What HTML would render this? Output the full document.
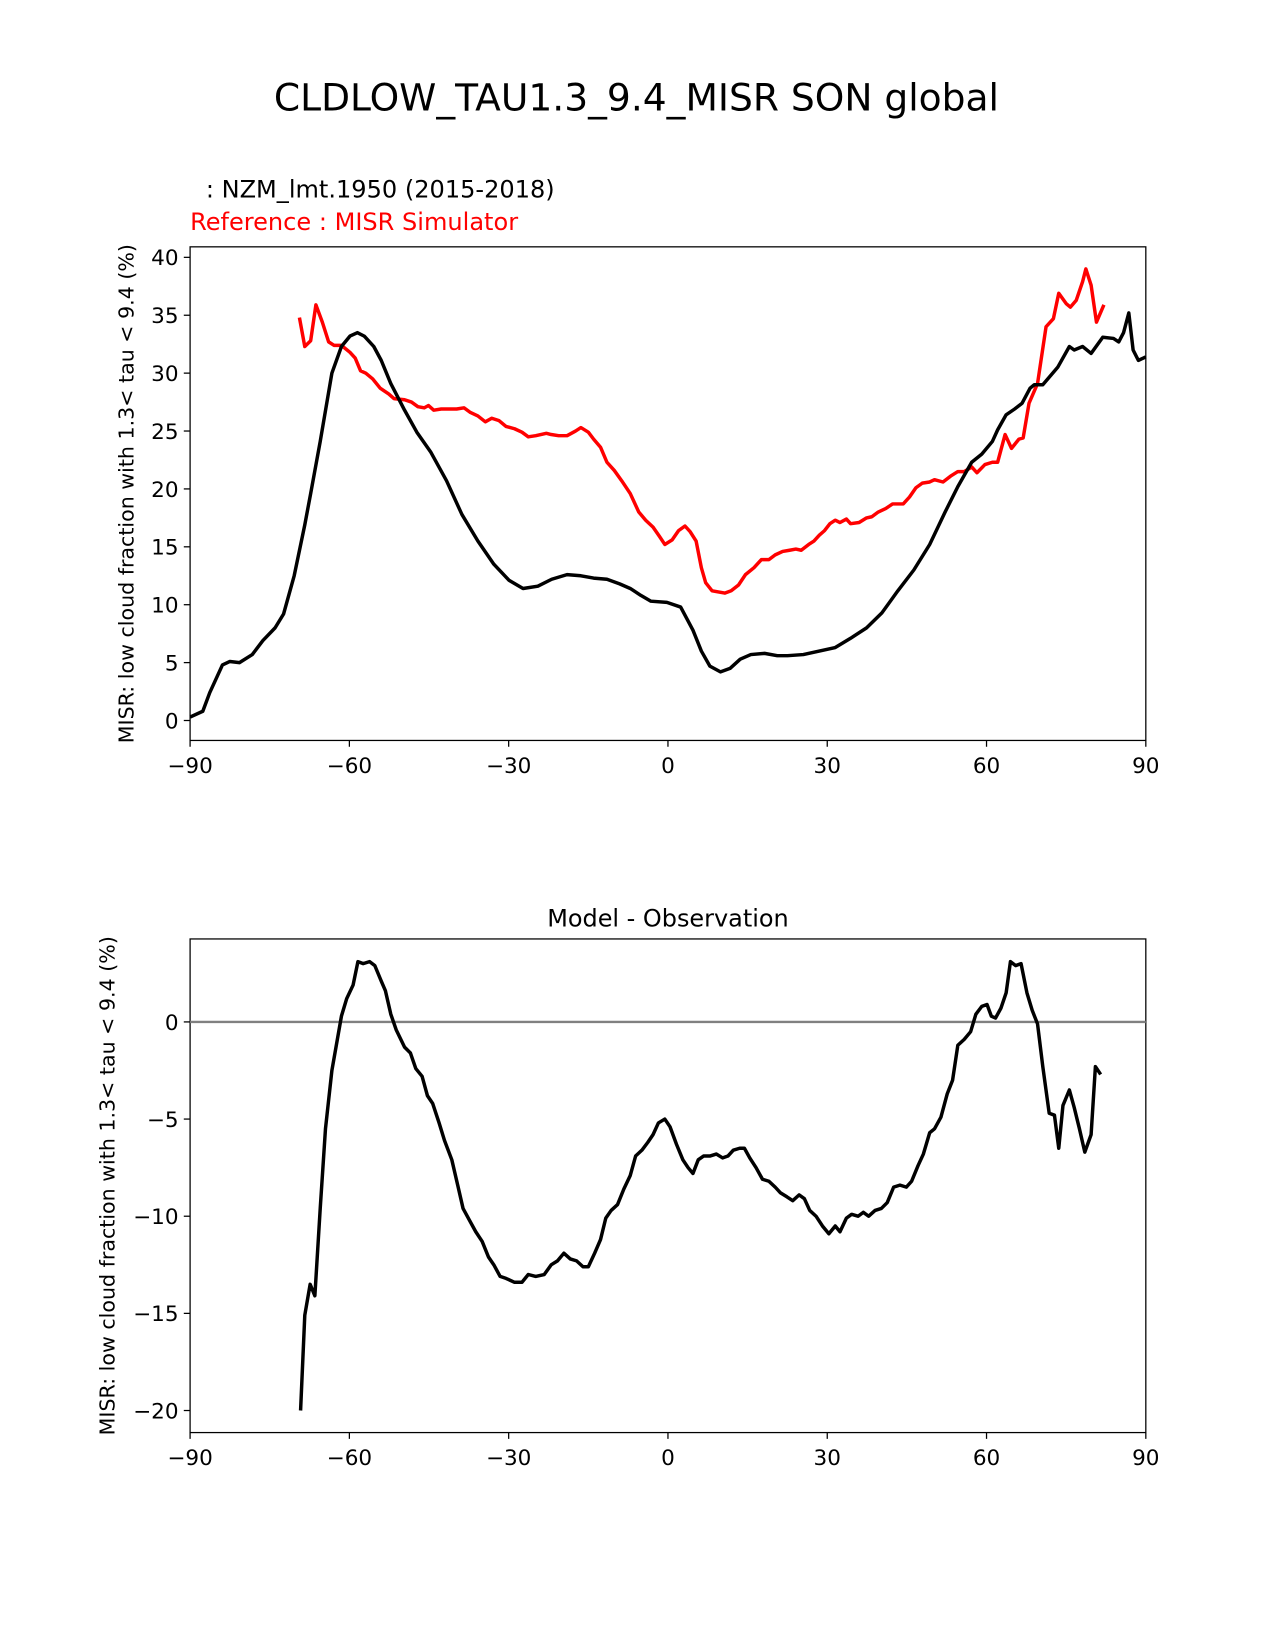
<!DOCTYPE html>
<html><head><meta charset="utf-8"><style>
html,body{margin:0;padding:0;background:#fff;}
svg{display:block;font-family:"DejaVu Sans","Liberation Sans",sans-serif;}
</style></head><body>
<svg id="fig" width="1275" height="1650" viewBox="0 0 1214 1571" xmlns="http://www.w3.org/2000/svg">
<rect width="1214" height="1571" fill="#fff"/>
<text x="606" y="105" font-size="35.8" text-anchor="middle">CLDLOW_TAU1.3_9.4_MISR SON global</text>
<text x="196" y="188" font-size="22.9">: NZM_lmt.1950 (2015-2018)</text>
<text x="181" y="219" font-size="22.9" fill="red">Reference : MISR Simulator</text>
<text x="636" y="882" font-size="22.8" text-anchor="middle">Model - Observation</text>
<g id="top"></g>
<g id="bot"></g>
</svg>
<script>
const blackLat=[-90,-87.6,-86.3,-83.9,-82.5,-80.7,-78.3,-76.3,-74.0,-72.4,-70.4,-68.4,-67.3,-65.5,-63.3,-61.5,-59.9,-58.5,-57.2,-55.4,-54.0,-52.2,-49.6,-47.3,-44.7,-41.7,-38.8,-35.8,-32.8,-29.9,-27.3,-24.5,-21.9,-19.0,-16.4,-14.0,-11.5,-9.1,-7.1,-5.1,-3.2,-0.2,2.4,4.7,6.3,7.9,9.9,11.7,13.6,15.6,18.2,20.6,22.5,25.5,28.5,31.5,34.4,37.4,40.3,43.3,46.3,49.3,52.2,54.6,57.2,59.1,61.1,62.1,63.7,65.3,66.7,68.2,69.0,70.6,73.4,75.6,76.5,78.1,79.7,81.9,83.9,84.9,85.8,86.8,87.6,88.6,90];
const blackVal=[0.3,0.8,2.4,4.8,5.1,5.0,5.7,6.9,8.0,9.2,12.5,16.9,19.6,24.1,30.0,32.3,33.2,33.5,33.2,32.3,31.1,29.1,26.8,24.9,23.2,20.7,17.8,15.5,13.5,12.1,11.4,11.6,12.2,12.6,12.5,12.3,12.2,11.8,11.4,10.8,10.3,10.2,9.8,7.8,6.0,4.7,4.2,4.5,5.3,5.7,5.8,5.6,5.6,5.7,6.0,6.3,7.1,8.0,9.3,11.2,13.0,15.2,18.0,20.2,22.3,23.0,24.1,25.1,26.4,26.9,27.4,28.7,29.0,29.0,30.5,32.3,32.0,32.3,31.7,33.1,33.0,32.7,33.5,35.2,32.0,31.1,31.4];
const redLat=[-69.4,-68.4,-67.3,-66.3,-65.1,-63.9,-62.9,-61.5,-59.9,-58.9,-57.9,-56.9,-55.6,-54.2,-52.6,-51.6,-49.6,-48.3,-47.1,-45.9,-45.1,-44.1,-42.7,-41.1,-39.8,-38.4,-37.2,-35.8,-34.4,-33.2,-31.8,-30.5,-28.9,-27.5,-26.3,-24.9,-22.9,-22.0,-20.6,-19.0,-17.4,-16.4,-15.0,-14.0,-12.7,-11.5,-10.1,-8.7,-7.1,-5.5,-4.2,-2.8,-1.6,-0.6,0.8,2.0,3.2,4.2,5.3,6.3,7.1,8.3,9.5,10.7,11.9,13.3,14.6,16.2,17.6,19.0,20.2,21.6,22.9,24.1,25.1,26.5,27.5,28.5,29.5,30.5,31.5,32.4,33.6,34.4,36.0,37.4,38.4,39.6,41.0,42.3,44.3,45.5,46.7,47.9,49.3,50.2,51.8,53.2,54.6,55.8,57.2,58.2,59.7,61.1,62.1,63.5,64.7,66.1,66.9,68.0,69.6,71.2,72.6,73.6,75.0,75.8,76.9,78.1,78.7,79.7,80.7,82.1];
const redVal=[34.8,32.3,32.8,35.9,34.4,32.7,32.4,32.4,31.8,31.3,30.2,30.0,29.5,28.7,28.2,27.8,27.7,27.5,27.1,27.0,27.2,26.8,26.9,26.9,26.9,27.0,26.6,26.3,25.8,26.1,25.9,25.4,25.2,24.9,24.5,24.6,24.8,24.7,24.6,24.6,25.0,25.3,24.9,24.3,23.6,22.3,21.6,20.7,19.6,18.0,17.3,16.7,15.9,15.2,15.6,16.4,16.8,16.3,15.5,13.2,11.9,11.2,11.1,11.0,11.2,11.7,12.6,13.2,13.9,13.9,14.3,14.6,14.7,14.8,14.7,15.2,15.5,16.0,16.4,17.0,17.3,17.1,17.4,17.0,17.1,17.5,17.6,18.0,18.3,18.7,18.7,19.3,20.1,20.5,20.6,20.8,20.6,21.1,21.5,21.5,21.9,21.4,22.1,22.3,22.3,24.7,23.5,24.3,24.4,27.4,29.1,34.0,34.7,36.9,36.0,35.7,36.3,37.9,39.0,37.6,34.4,35.9];
const diffLat=[-69.2,-68.4,-67.4,-66.5,-65.5,-64.5,-63.3,-61.5,-60.5,-59.3,-58.4,-57.4,-56.2,-55.2,-54.0,-53.2,-52.2,-51.2,-49.6,-48.5,-47.5,-46.3,-45.3,-44.3,-43.1,-42.1,-40.7,-39.6,-38.6,-37.4,-36.2,-35.0,-33.8,-32.8,-31.6,-30.5,-28.9,-27.5,-26.3,-24.9,-23.3,-22.0,-20.8,-19.6,-18.4,-17.2,-16.0,-15.0,-13.8,-12.7,-11.7,-10.7,-9.5,-8.3,-7.1,-6.1,-4.9,-3.8,-2.8,-1.8,-0.6,0.4,1.6,2.8,3.8,4.7,5.7,6.7,7.9,9.1,10.3,11.3,12.3,13.5,14.4,15.4,16.6,17.8,19.0,20.2,21.2,22.4,23.5,24.7,25.7,26.7,27.9,29.1,30.3,31.5,32.4,33.6,34.6,35.8,36.8,37.8,39.0,40.2,41.3,42.5,43.7,44.9,45.9,47.1,48.1,49.3,50.2,51.4,52.6,53.6,54.6,55.8,57.0,58.0,59.1,60.1,60.9,61.7,62.7,63.7,64.5,65.5,66.5,67.6,68.6,69.6,70.6,71.8,72.8,73.6,74.4,75.6,76.5,77.5,78.5,79.7,80.5,81.5];
const diffVal=[-20,-15.1,-13.5,-14.1,-9.6,-5.5,-2.5,0.3,1.2,1.9,3.1,3.0,3.1,2.9,2.1,1.6,0.4,-0.4,-1.3,-1.6,-2.4,-2.8,-3.8,-4.2,-5.2,-6.1,-7.1,-8.4,-9.6,-10.2,-10.8,-11.3,-12.1,-12.5,-13.1,-13.2,-13.4,-13.4,-13.0,-13.1,-13.0,-12.5,-12.3,-11.9,-12.2,-12.3,-12.6,-12.6,-11.9,-11.2,-10.1,-9.7,-9.4,-8.6,-7.9,-6.9,-6.6,-6.2,-5.8,-5.2,-5.0,-5.4,-6.3,-7.1,-7.5,-7.8,-7.1,-6.9,-6.9,-6.8,-7.0,-6.9,-6.6,-6.5,-6.5,-7.0,-7.5,-8.1,-8.2,-8.5,-8.8,-9.0,-9.2,-8.9,-9.1,-9.7,-10.0,-10.5,-10.9,-10.5,-10.8,-10.1,-9.9,-10.0,-9.8,-10.0,-9.7,-9.6,-9.3,-8.5,-8.4,-8.5,-8.2,-7.4,-6.8,-5.7,-5.5,-4.9,-3.7,-3.0,-1.2,-0.9,-0.5,0.4,0.8,0.9,0.3,0.2,0.7,1.5,3.1,2.9,3.0,1.5,0.6,-0.1,-2.3,-4.7,-4.8,-6.5,-4.3,-3.5,-4.4,-5.5,-6.7,-5.8,-2.3,-2.7];
const xTicks=[-90,-60,-30,0,30,60,90];
const xTickLabels=["\u221290","\u221260","\u221230","0","30","60","90"];
const topYTicks=[0,5,10,15,20,25,30,35,40];
const botYTicks=[0,-5,-10,-15,-20];

const NS="http://www.w3.org/2000/svg";
function mk(parent,tag,attrs,text){const e=document.createElementNS(NS,tag);for(const k in attrs)e.setAttribute(k,attrs[k]);if(text!==undefined)e.textContent=text;parent.appendChild(e);return e;}
const X=lat=>181+(lat+90)*(910/180);
function panel(g,top,bottom,yFn,yTicks,ylabel,ylx){
  mk(g,'rect',{x:181,y:top,width:910,height:bottom-top,fill:'none',stroke:'#000','stroke-width':1.2});
  xTicks.forEach((t,i)=>{
    const tl=mk(g,'line',{x1:X(t),x2:X(t),y1:bottom,y2:bottom+6,stroke:'#000','stroke-width':1.2});
    
    
    const tx=mk(g,'text',{x:X(t),y:bottom+31,'font-size':20.5,'text-anchor':'middle'},xTickLabels[i]);
    
    
  });
  yTicks.forEach(v=>{
    const tl=mk(g,'line',{x1:175,x2:181,y1:yFn(v),y2:yFn(v),stroke:'#000','stroke-width':1.2});
    
    
    const tx=mk(g,'text',{x:170,y:yFn(v)+7.5,'font-size':20.5,'text-anchor':'end'},String(v).replace('-','\u2212'));
    
    
  });
  const cy=(top+bottom)/2;
  const yl=mk(g,'text',{x:ylx,y:cy,'font-size':19.6,'text-anchor':'middle',transform:`rotate(-90 ${ylx} ${cy})`},ylabel);
  
  
}
function line(g,lats,vals,yFn,color,name){
  const d=lats.map((l,i)=>(i?'L':'M')+X(l).toFixed(1)+' '+yFn(vals[i]).toFixed(1)).join(' ');
  const p=mk(g,'path',{d:d,fill:'none',stroke:color,'stroke-width':3.3,'stroke-linejoin':'round'});
  
  
}
const YT=v=>686-v*(441/40);
const YB=v=>973-v*18.5;
const gt=document.getElementById('top'), gb=document.getElementById('bot');
const lab="MISR: low cloud fraction with 1.3< tau < 9.4 (%)";
panel(gt,235,705,YT,topYTicks,lab,127);
line(gt,redLat,redVal,YT,'red','reference-line');
line(gt,blackLat,blackVal,YT,'#000','model-line');
panel(gb,894,1364,YB,botYTicks,lab,109);
const z=mk(gb,'line',{x1:181,x2:1091,y1:YB(0),y2:YB(0),stroke:'#808080','stroke-width':2.2});


line(gb,diffLat,diffVal,YB,'#000','difference-line');
</script>
</body></html>
